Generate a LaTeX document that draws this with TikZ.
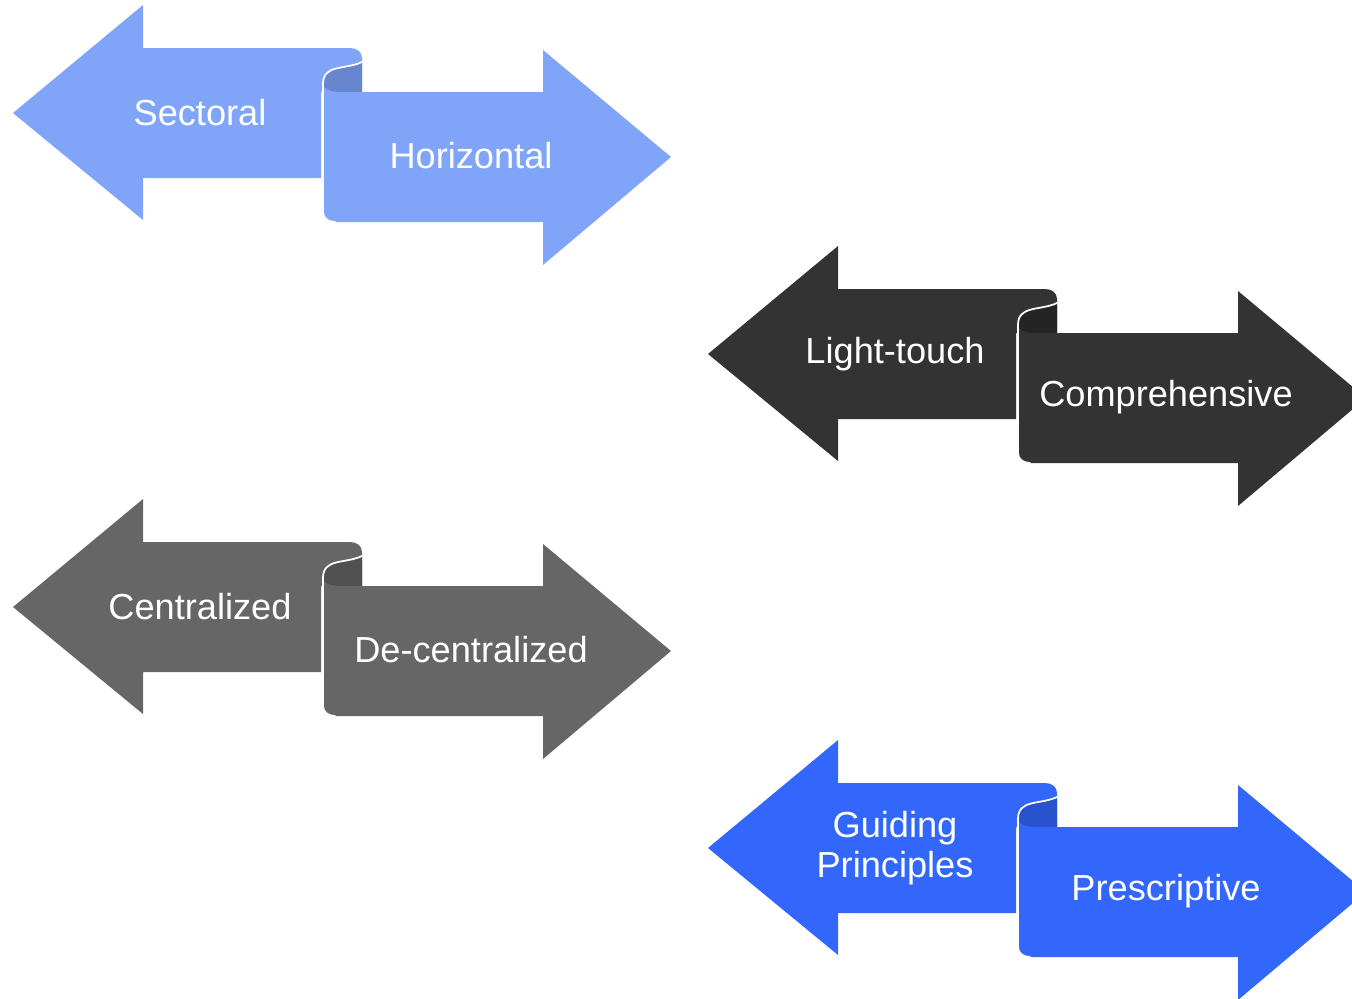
\documentclass[tikz,border=0pt]{standalone}
\usepackage{fontspec}
\setmainfont{Liberation Sans}
\definecolor{paleblue}{RGB}{128,165,248}
\definecolor{paleroll}{RGB}{104,134,208}
\definecolor{coal}{RGB}{51,51,51}
\definecolor{coalroll}{RGB}{36,36,36}
\definecolor{midgray}{RGB}{102,102,102}
\definecolor{midroll}{RGB}{80,80,80}
\definecolor{royal}{RGB}{51,103,252}
\definecolor{royalroll}{RGB}{40,82,206}
\begin{document}
\begin{tikzpicture}[x=0.02cm, y=-0.02cm, line join=round, line cap=round,
  txt/.style={text=white, font=\fontsize{20.6}{23}\selectfont, align=center, inner sep=0pt},
  lip/.style={draw=white, line width=1pt}]
\useasboundingbox (0,0) rectangle (1352,998);
\clip (0,0) rectangle (1352,998);
\foreach \dx/\dy/\fc/\rc/\lt/\rt/\nm in {
  0/0/paleblue/paleroll/Sectoral/Horizontal/a,
  695/241/coal/coalroll/Light-touch/Comprehensive/b,
  0/494/midgray/midroll/Centralized/De-centralized/c,
  695/735/royal/royalroll/{Guiding\\Principles}/Prescriptive/d}{
\begin{scope}[shift={(\dx,\dy)}]
% left arrow with rolled end
\fill[\fc] (13,113)--(143,5)--(143,48)--(350,48) .. controls (357,48) and (362,52) .. (362,58)
  --(362,92)--(321,92)--(321,178)--(143,178)--(143,220)--cycle;
\fill[\rc] (362,62) .. controls (345,70) and (323,64) .. (323,84)
  .. controls (323,89) and (330,92) .. (340,92)--(362,92)--cycle;
% right arrow
\fill[\fc] (323,84)--(323,212) .. controls (323,218) and (328,222) .. (335,222)
  --(543,222)--(543,265)--(671,157)--(543,50)--(543,92)--(340,92)
  .. controls (330,92) and (323,89) .. (323,84)--cycle;
\draw[lip] (362,62) .. controls (345,70) and (323,64) .. (323,84)--(323,212)
  .. controls (323,218) and (328,222) .. (335,222);
\node[txt] (l\nm) at (200,113) {\lt};
\node[txt] (r\nm) at (471,156) {\rt};
\end{scope}
}
\end{tikzpicture}
\end{document}
